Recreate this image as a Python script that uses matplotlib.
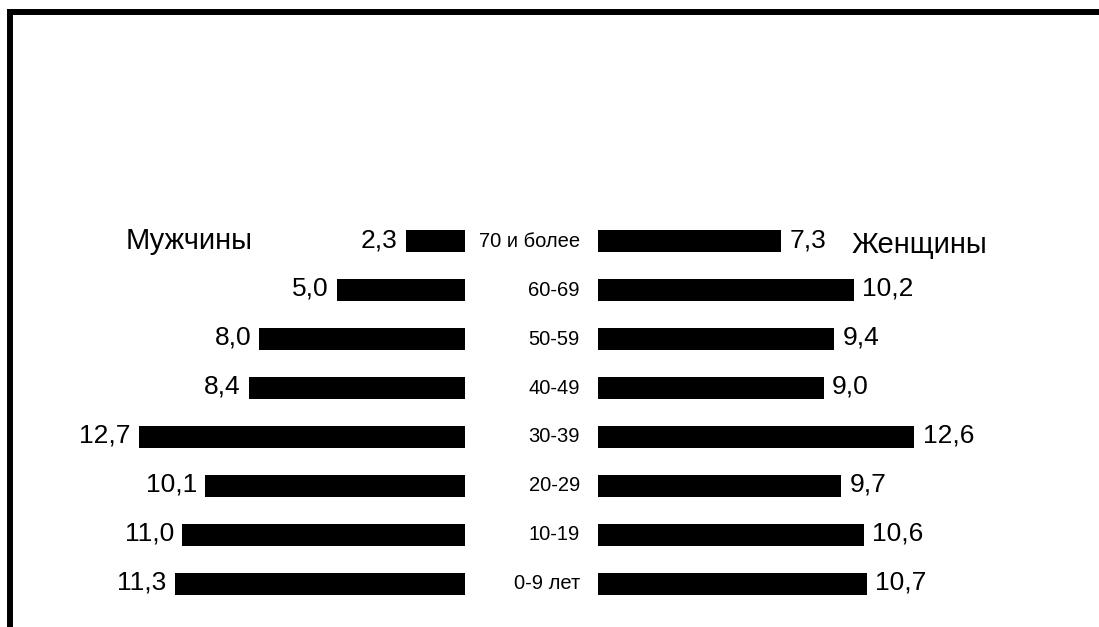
import matplotlib
matplotlib.use("Agg")
from matplotlib import pyplot as plt
from matplotlib.lines import Line2D

plt.rcParams['font.family'] = ['Liberation Sans', 'DejaVu Sans']

# данные: возрастные группы снизу вверх
groups  = ["0-9 лет", "10-19", "20-29", "30-39", "40-49", "50-59", "60-69", "70 и более"]
muzhchiny = [11.3, 11.0, 10.1, 12.7, 8.4, 8.0, 5.0, 2.3]
zhenshchiny = [10.7, 10.6, 9.7, 12.6, 9.0, 9.4, 10.2, 7.3]

W, H = 1099, 627
fig = plt.figure(figsize=(W / 100, H / 100), dpi=100)
fig.patch.set_facecolor("white")

# положение осей в пикселях
y_bot = (H - 608) / H
y_h   = 391 / H
ax_l = fig.add_axes([28 / W, y_bot, 437 / W, y_h])
ax_r = fig.add_axes([598 / W, y_bot, 502 / W, y_h])

pos = range(len(groups))

ax_l.barh(pos, muzhchiny, height=0.45, color="black")
ax_l.set_xlim(437 / 25.7, 0)
ax_r.barh(pos, zhenshchiny, height=0.45, color="black")
ax_r.set_xlim(0, 502 / 25.1)

for ax in (ax_l, ax_r):
    ax.set_ylim(-0.5, len(groups) - 0.5)
    ax.axis("off")

for i, v in enumerate(muzhchiny):
    ax_l.annotate(f"{v:.1f}".replace(".", ","), (v, i), xytext=(-6, 1),
                  textcoords="offset points", ha="right", va="center", fontsize=19)
for i, v in enumerate(zhenshchiny):
    ax_r.annotate(f"{v:.1f}".replace(".", ","), (v, i), xytext=(6, 1),
                  textcoords="offset points", ha="left", va="center", fontsize=19)

# подписи групп между столбцами
for i, g in enumerate(groups):
    ax_r.annotate(g, (0, i), xytext=(-13, 0), textcoords="offset points",
                  ha="right", va="center", fontsize=14.5)

ax_l.text(13.2, 7, "Мужчины", ha="left", va="center", fontsize=21)
ax_r.text(10.1, 6.92, "Женщины", ha="left", va="center", fontsize=21)

# рамка сверху и слева
fig.add_artist(Line2D([7 / W, 1], [1 - 12 / H, 1 - 12 / H], color="black", lw=4.3,
                      transform=fig.transFigure, solid_capstyle="butt"))
fig.add_artist(Line2D([10 / W, 10 / W], [0, 1 - 9 / H], color="black", lw=4.3,
                      transform=fig.transFigure, solid_capstyle="butt"))

fig.savefig("out.png", dpi=100, facecolor="white")
